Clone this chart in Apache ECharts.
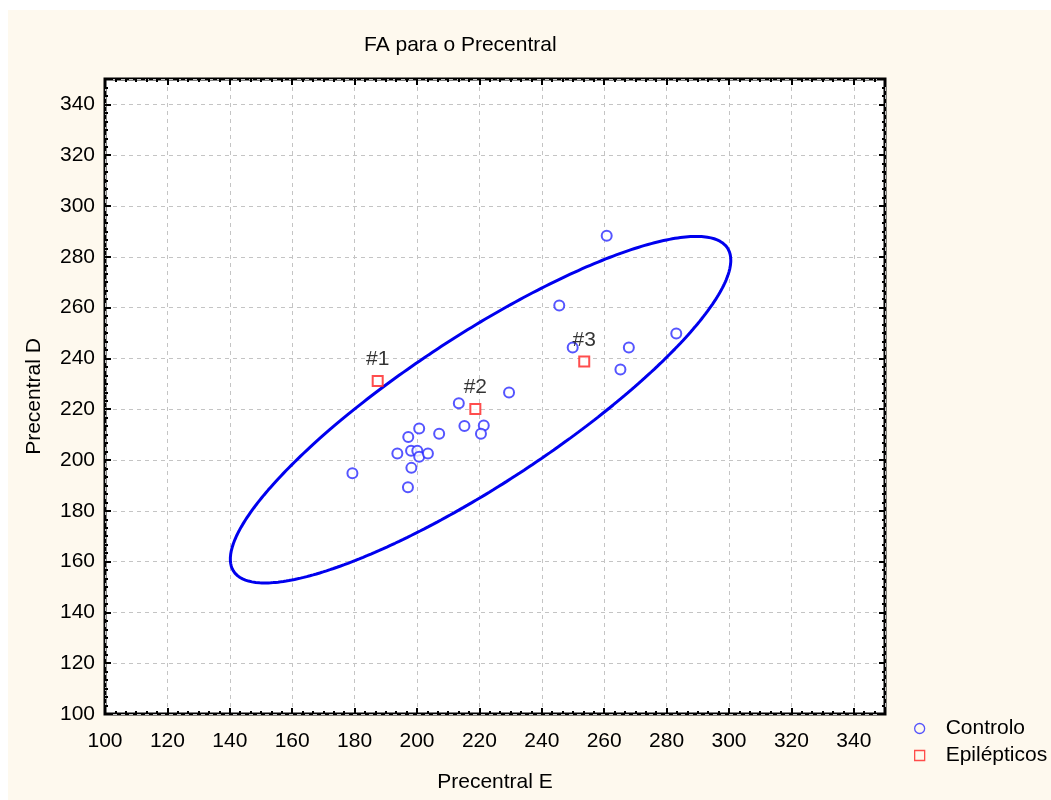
<!DOCTYPE html>
<html>
<head>
<meta charset="utf-8">
<script src="https://cdn.jsdelivr.net/npm/echarts@6/dist/echarts.min.js"></script>
<style>
  html, body { margin: 0; padding: 0; background: #fff; }
  #chart {
    position: absolute; left: 0; top: 0; width: 1051px; height: 800px;
    background: linear-gradient(#fef9ee, #fef9ee) no-repeat 8px 10px / 1043px 790px, #fff;
  }
</style>
</head>
<body>
<div id="chart"></div>
<script>
// Control group: FA of the precentral region, left (E) vs right (D)
const controloE = [229.5, 213.4, 215.2, 221.4, 220.5, 207.1, 200.7, 197.2, 193.7, 198.1, 200.1,
                   200.7, 203.5, 198.2, 197.1, 179.3, 260.8, 245.6, 249.9, 267.9, 283.1, 265.2];
const controloD = [226.6, 222.3, 213.4, 213.6, 210.3, 210.3, 212.4, 209.1, 202.6, 203.6, 203.6,
                   201.3, 202.6, 196.9, 189.3, 194.8, 288.3, 260.8, 244.3, 244.3, 249.8, 235.6];

// Epileptic patients
const epiNames = ['#1', '#2', '#3'];
const epiE = [187.4, 218.7, 253.6];
const epiD = [231.1, 220.1, 238.8];

const axisMin = 100, axisMax = 350, axisStep = 20;

// 95% prediction ellipse of the control group (F(2, n-2) quantile, n = 22)
const F_2_20_95 = 3.4928;

function predictionEllipse(xs, ys, fq, steps) {
  const n = xs.length;
  const mx = xs.reduce((a, b) => a + b, 0) / n;
  const my = ys.reduce((a, b) => a + b, 0) / n;
  let sxx = 0, syy = 0, sxy = 0;
  for (let i = 0; i < n; i++) {
    const dx = xs[i] - mx, dy = ys[i] - my;
    sxx += dx * dx; syy += dy * dy; sxy += dx * dy;
  }
  sxx /= (n - 1); syy /= (n - 1); sxy /= (n - 1);
  const k = Math.sqrt(2 * (n - 1) * (n + 1) / (n * (n - 2)) * fq);
  // Cholesky factor of the covariance matrix
  const l11 = Math.sqrt(sxx);
  const l21 = sxy / l11;
  const l22 = Math.sqrt(syy - l21 * l21);
  const pts = [];
  for (let i = 0; i <= steps; i++) {
    const t = 2 * Math.PI * i / steps;
    const c = Math.cos(t), s = Math.sin(t);
    pts.push([mx + k * l11 * c, my + k * (l21 * c + l22 * s)]);
  }
  return pts;
}

const ellipse = predictionEllipse(controloE, controloD, F_2_20_95, 360);

const FONT = 'Liberation Sans, Arial, sans-serif';
const FS = 21;
const tickStyle = { show: true, inside: true, length: 6, lineStyle: { color: '#000', width: 2 } };
const minorStyle = { show: true, splitNumber: 6, length: 3, lineStyle: { color: '#000', width: 2 } };

function valueAxis(extra) {
  return Object.assign({
    type: 'value', min: axisMin, max: axisMax, interval: axisStep,
    axisLine: { show: false },
    axisTick: tickStyle,
    minorTick: minorStyle,
    splitLine: { show: false }
  }, extra);
}

const chart = echarts.init(document.getElementById('chart'), null, { renderer: 'canvas' });

chart.setOption({
  backgroundColor: 'transparent',
  animation: false,
  textStyle: { fontFamily: FONT },
  title: {
    text: 'FA para o Precentral',
    left: 359, top: 30,
    textStyle: { fontFamily: FONT, fontSize: FS, fontWeight: 'normal', color: '#000' }
  },
  legend: {
    orient: 'vertical', left: 909, top: 713,
    itemWidth: 10, itemHeight: 10, itemGap: 6,
    textStyle: { fontFamily: FONT, fontSize: FS, color: '#000', padding: [0, 0, 0, 16] },
    data: [
      { name: 'Controlo', icon: 'circle',
        itemStyle: { color: 'rgba(0,0,0,0)', borderColor: '#2a2aff', borderWidth: 1.3 } },
      { name: 'Epilépticos', icon: 'rect',
        itemStyle: { color: 'rgba(0,0,0,0)', borderColor: '#ff2020', borderWidth: 1.3 } }
    ]
  },
  grid: {
    left: 105, top: 79, width: 780, height: 635,
    show: true, backgroundColor: '#fff', borderColor: '#000', borderWidth: 3
  },
  xAxis: [
    valueAxis({
      position: 'bottom',
      name: 'Precentral E', nameLocation: 'middle', nameGap: 58,
      nameTextStyle: { fontFamily: FONT, fontSize: FS, color: '#000' },
      axisLabel: { fontFamily: FONT, fontSize: FS, color: '#000', margin: 17, showMaxLabel: false },
      splitLine: { show: true, lineStyle: { color: '#c4c4c4', type: [4, 4], width: 1 } }
    }),
    valueAxis({ position: 'top', axisLabel: { show: false } })
  ],
  yAxis: [
    valueAxis({
      position: 'left',
      name: 'Precentral D', nameLocation: 'middle', nameGap: 60,
      nameTextStyle: { fontFamily: FONT, fontSize: FS, color: '#000' },
      axisLabel: { fontFamily: FONT, fontSize: FS, color: '#000', margin: 10, showMaxLabel: false },
      splitLine: { show: true, lineStyle: { color: '#c4c4c4', type: [4, 4], width: 1 } }
    }),
    valueAxis({ position: 'right', axisLabel: { show: false } })
  ],
  series: [
    {
      name: 'Elipse', type: 'line', xAxisIndex: 0, yAxisIndex: 0,
      data: ellipse, showSymbol: false, symbol: 'none', smooth: false,
      lineStyle: { color: '#0000ee', width: 3 }, silent: true, z: 2
    },
    {
      name: 'Controlo', type: 'scatter', xAxisIndex: 0, yAxisIndex: 0,
      data: controloE.map((e, i) => [e, controloD[i]]),
      symbol: 'emptyCircle', symbolSize: 10,
      itemStyle: { color: '#2a2aff', borderColor: '#2a2aff', borderWidth: 1.3 }, z: 3
    },
    {
      name: 'Epilépticos', type: 'scatter', xAxisIndex: 0, yAxisIndex: 0,
      data: epiE.map((e, i) => ({ name: epiNames[i], value: [e, epiD[i]] })),
      symbol: 'emptyRect', symbolSize: 10,
      itemStyle: { color: '#ff2020', borderColor: '#ff2020', borderWidth: 1.3 }, z: 4,
      label: {
        show: true, position: 'top', distance: 5,
        formatter: p => p.name,
        fontFamily: FONT, fontSize: FS, color: '#000'
      }
    }
  ]
});
</script>
</body>
</html>
